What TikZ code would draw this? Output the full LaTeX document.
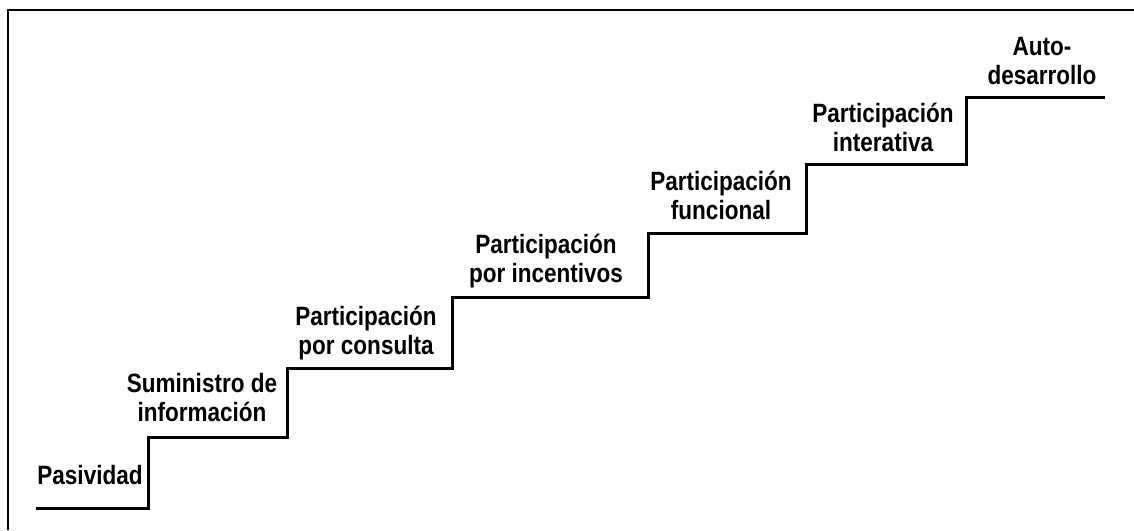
\documentclass[tikz,border=0pt]{standalone}
\usepackage{fontspec}
\newfontfamily\stairfont[FakeStretch=0.85]{Liberation Sans Bold}
\begin{document}
\begin{tikzpicture}[x=1pt,y=-1pt,
    lbl/.style={anchor=south,align=center,inner sep=0pt,font=\stairfont\fontsize{26.5}{29}\selectfont}]
\useasboundingbox (0,0) rectangle (1134,530);
\draw[line width=2pt](8,530)--(8,10)--(1134,10);
\draw[line width=3pt](36,508)--(148,508)--(148,437)--(287,437)--(287,368)--(452,368)
    --(452,297)--(648,297)--(648,233)--(806,233)--(806,164)--(966,164)--(966,97)--(1105,97);

\node (pasividad) at (90,485)[lbl]{Pasividad};
\node (suministro) at (202,422)[lbl]{Suministro de\\información};
\node (consulta) at (366,360)[lbl]{Participación\\por consulta};
\node (incentivos) at (546,288)[lbl]{Participación\\por incentivos};
\node (funcional) at (721,220)[lbl]{Participación\\funcional};
\node (interativa) at (883,152)[lbl]{Participación\\interativa};
\node (autodes) at (1042,85)[lbl]{Auto-\\desarrollo};
\end{tikzpicture}
\end{document}
